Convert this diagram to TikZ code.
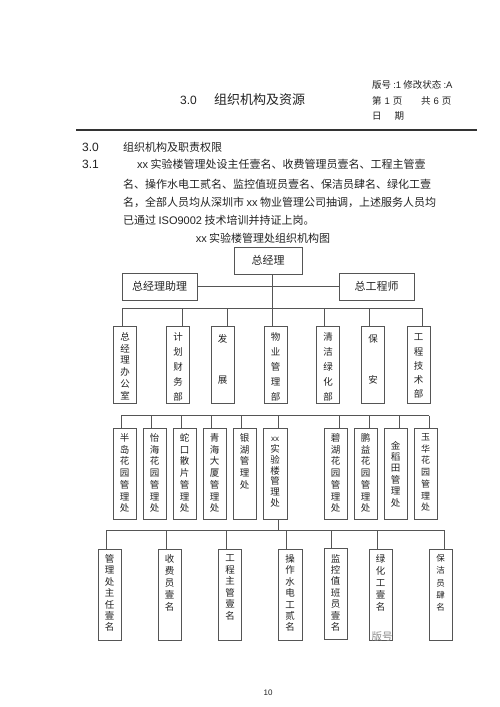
\documentclass[tikz,border=0pt]{standalone}
\usepackage{fontspec}
\setmainfont{Noto Sans CJK SC}
\newfontfamily\lat{Liberation Sans}
\definecolor{linec}{HTML}{555555}
\definecolor{txtc}{HTML}{222222}
\definecolor{rulec}{HTML}{333333}
\begin{document}
\begin{tikzpicture}[x=1pt,y=-1pt,
  every node/.style={inner sep=0pt, text=txtc},
  hbox/.style={draw=linec, line width=0.7pt, minimum width=75pt, minimum height=27pt, font=\fontsize{11}{13}\selectfont},
  vbA/.style={draw=linec, line width=0.7pt, minimum width=23pt, minimum height=77pt},
  vbB/.style={draw=linec, line width=0.7pt, minimum width=23pt, minimum height=91pt},
  vt/.style={anchor=north, align=center},
  conn/.style={draw=linec, line width=0.8pt},
  para/.style={anchor=west, font=\fontsize{11}{13}\selectfont},
  hdr/.style={anchor=west, font=\fontsize{9.5}{11}\selectfont},
]
\useasboundingbox[fill=white] (0,0) rectangle (500,707);

% ---------- header ----------
\node[anchor=west, font=\lat\fontsize{12}{14}\selectfont] (h30) at (180,100) {3.0};
\node[anchor=west, font=\fontsize{13}{15}\selectfont] (htitle) at (214,100) {组织机构及资源};
\node[hdr] (hver) at (372,85) {版号 {\lat :1} 修改状态 {\lat :A}};
\node[hdr] (hpg1) at (372,101) {第\hspace{3pt}{\lat 1}\hspace{3pt}页};
\node[hdr] (hpg2) at (421,101) {共\hspace{3pt}{\lat 6}\hspace{3pt}页};
\node[hdr] (hdate) at (372,116) {日\hspace{13pt}期};
\draw[rulec, line width=1.6pt] (76,130) -- (477,130);

% ---------- paragraph ----------
\node[anchor=west, font=\lat\fontsize{12}{14}\selectfont] (s30) at (82,147) {3.0};
\node[para] (s30t) at (123,147) {组织机构及职责权限};
\node[anchor=west, font=\lat\fontsize{12}{14}\selectfont] (s31) at (82,164) {3.1};
\node[para] (l1) at (137,164) {{\lat xx} 实验楼管理处设主任壹名、收费管理员壹名、工程主管壹};
\node[para] (l2) at (123,184) {名、操作水电工贰名、监控值班员壹名、保洁员肆名、绿化工壹};
\node[para] (l3) at (123,202) {名，全部人员均从深圳市 {\lat xx} 物业管理公司抽调，上述服务人员均};
\node[para] (l4) at (123,220) {已通过 {\lat ISO9002} 技术培训并持证上岗。};
\node[font=\fontsize{11}{13}\selectfont] (ctitle) at (263,238) {{\lat xx} 实验楼管理处组织机构图};

% ---------- top level ----------
\node[hbox, minimum width=68pt] (gm) at (268,260.5) {总经理};
\node[hbox] (gma) at (159.5,286.5) {总经理助理};
\node[hbox] (gce) at (376.5,286.5) {总工程师};
\draw[conn] (gma.east) -- (gce.west);

% ---------- departments ----------
\node[vbA] (d1) at (125,364.5) {};
\node[vbA] (d2) at (178,364.5) {};
\node[vbA] (d3) at (222.5,364.5) {};
\node[vbA] (d4) at (275.5,364.5) {};
\node[vbA] (d5) at (328,364.5) {};
\node[vbA] (d6) at (373,364.5) {};
\node[vbA] (d7) at (418.5,364.5) {};

\node[vt, font=\fontsize{9.5}{11.8}\selectfont, yshift=-6.5pt] (td1) at (d1.north) {总\\经\\理\\办\\公\\室};
\node[vt, font=\fontsize{9.5}{15}\selectfont, yshift=-6.5pt] (td2) at (d2.north) {计\\划\\财\\务\\部};
\node[vt, font=\fontsize{9.5}{41}\selectfont, yshift=-8.5pt] (td3) at (d3.north) {发\\展};
\node[vt, font=\fontsize{9.5}{15}\selectfont, yshift=-6.5pt] (td4) at (d4.north) {物\\业\\管\\理\\部};
\node[vt, font=\fontsize{9.5}{15}\selectfont, yshift=-6.5pt] (td5) at (d5.north) {清\\洁\\绿\\化\\部};
\node[vt, font=\fontsize{9.5}{41}\selectfont, yshift=-8.5pt] (td6) at (d6.north) {保\\安};
\node[vt, font=\fontsize{9.5}{14.3}\selectfont, yshift=-8pt] (td7) at (d7.north) {工\\程\\技\\术\\部};

\coordinate (bL1) at (122,308);
\coordinate (bR1) at (422,308);
\draw[conn] (bL1) -- (bR1);
\coordinate (p4) at (272,308);
\draw[conn] (p4 |- gm.south) -- (p4);
\foreach \x/\n in {122/d1,182/d2,227/d3,272/d4,324/d5,369/d6,422/d7}{
  \coordinate (dp) at (\x,308);
  \draw[conn] (dp) -- (dp |- \n.north);
}

% ---------- branch offices ----------
\node[vbB] (e1) at (124.5,473.5) {};
\node[vbB] (e2) at (154.5,473.5) {};
\node[vbB] (e3) at (184.5,473.5) {};
\node[vbB] (e4) at (214.5,473.5) {};
\node[vbB] (e5) at (244.5,473.5) {};
\node[vbB, minimum width=24pt] (e6) at (275,473.5) {};
\node[vbB] (e7) at (335.5,473.5) {};
\node[vbB] (e8) at (365.5,473.5) {};
\node[vbB] (e9) at (395.5,473.5) {};
\node[vbB] (e10) at (425.5,473.5) {};

\tikzset{vt2/.style={vt, font=\fontsize{9.5}{11.7}\selectfont, yshift=-5.7pt}}
\node[vt2] (te1) at (e1.north) {半\\岛\\花\\园\\管\\理\\处};
\node[vt2] (te2) at (e2.north) {怡\\海\\花\\园\\管\\理\\处};
\node[vt2] (te3) at (e3.north) {蛇\\口\\散\\片\\管\\理\\处};
\node[vt2] (te4) at (e4.north) {青\\海\\大\\厦\\管\\理\\处};
\node[vt2] (te5) at (e5.north) {银\\湖\\管\\理\\处};
\node[vt2, font=\fontsize{9.5}{10.8}\selectfont] (te6) at (e6.north) {\vphantom{实}{\lat\fontsize{8}{10.8}\selectfont xx}\\实\\验\\楼\\管\\理\\处};
\node[vt2] (te7) at (e7.north) {碧\\湖\\花\\园\\管\\理\\处};
\node[vt2] (te8) at (e8.north) {鹏\\益\\花\\园\\管\\理\\处};
\node[vt2, font=\fontsize{9.5}{11.4}\selectfont, yshift=-7.5pt] (te9) at (e9.north) {金\\稻\\田\\管\\理\\处};
\node[vt2, font=\fontsize{9}{11.7}\selectfont] (te10) at (e10.north) {玉\\华\\花\\园\\管\\理\\处};

\coordinate (bL2) at (121,415.5);
\coordinate (bR2) at (429,415.5);
\draw[conn] (bL2) -- (bR2);
\foreach \x/\n in {121/e1,151/e2,181/e3,211/e4,241/e5,278/e6,339/e7,369/e8,399/e9,429/e10}{
  \coordinate (ep) at (\x,415.5);
  \draw[conn] (ep) -- (ep |- \n.north);
}

% ---------- staff ----------
\node[vbB] (f1) at (109.5,594.5) {};
\node[vbB] (f2) at (169.5,594.5) {};
\node[vbB] (f3) at (230,594.5) {};
\node[vbB, minimum width=24pt] (f4) at (290,594.5) {};
\node[vbB] (f5) at (335.5,594) {};
\node[vbB] (f6) at (380.5,594.5) {};
\node[vbB] (f7) at (440.5,594.5) {};

\tikzset{vt3/.style={vt, font=\fontsize{9.5}{11.4}\selectfont, yshift=-5.7pt}}
\node[vt3] (tf1) at (f1.north) {管\\理\\处\\主\\任\\壹\\名};
\node[vt3, font=\fontsize{9.5}{12}\selectfont] (tf2) at (f2.north) {收\\费\\员\\壹\\名};
\node[vt3, font=\fontsize{9.5}{11.6}\selectfont] (tf3) at (f3.north) {工\\程\\主\\管\\壹\\名};
\node[vt3] (tf4) at (f4.north) {操\\作\\水\\电\\工\\贰\\名};
\node[vt3] (tf5) at (f5.north) {监\\控\\值\\班\\员\\壹\\名};
\node[vt3, font=\fontsize{9.5}{12}\selectfont] (tf6) at (f6.north) {绿\\化\\工\\壹\\名};
\node[vt3, font=\fontsize{8.5}{12.2}\selectfont] (tf7) at (f7.north) {保\\洁\\员\\肆\\名};

\coordinate (bL3) at (106,530);
\coordinate (bR3) at (444,530);
\draw[conn] (bL3) -- (bR3);
\coordinate (r6) at (278,530);
\draw[conn] (r6 |- e6.south) -- (r6);
\foreach \x/\n in {106/f1,166/f2,226/f3,286/f4,331/f5,377/f6,444/f7}{
  \coordinate (fp) at (\x,530);
  \draw[conn] (fp) -- (fp |- \n.north);
}

% ---------- stray mark and page number ----------
\node[text=black!45, font=\fontsize{10.5}{12}\selectfont] (ghost) at (382,637) {版号};
\node[font=\lat\fontsize{8}{10}\selectfont] (pgno) at (268,693) {10};
\end{tikzpicture}
\end{document}
